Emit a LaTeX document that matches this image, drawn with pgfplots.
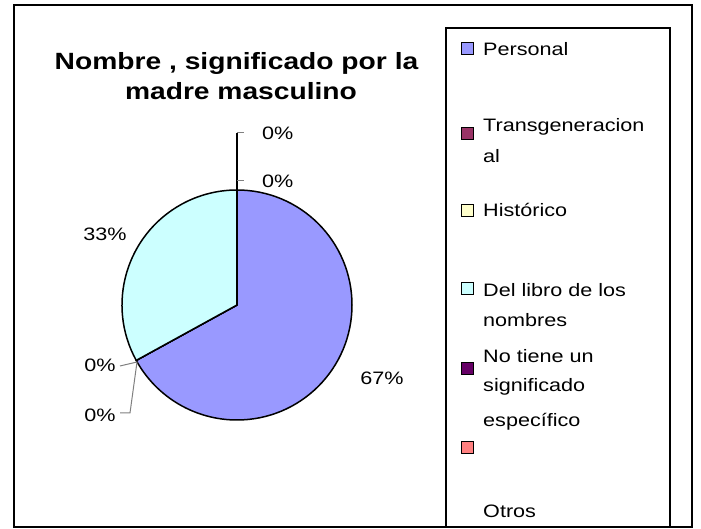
\documentclass[border=0pt]{standalone}
\usepackage{pgfplots}
\usepackage{pgfplotstable}
\pgfplotsset{compat=1.18}
\usepackage{fontspec}
\setmainfont{Liberation Sans}[FakeStretch=1.2]

\definecolor{slice0}{HTML}{9999FF}
\definecolor{slice1}{HTML}{993366}
\definecolor{slice2}{HTML}{FFFFCC}
\definecolor{slice3}{HTML}{CCFFFF}
\definecolor{slice4}{HTML}{660066}
\definecolor{slice5}{HTML}{FF8080}
\definecolor{leader}{HTML}{808080}

% percentages per category, in legend order
\pgfplotstableread{
idx value
0 67
1 0
2 0
3 33
4 0
5 0
}\piedata

\begin{document}
\begin{tikzpicture}
\begin{axis}[
    hide axis,
    scale only axis,
    width=701bp, height=529bp,
    xmin=0, xmax=701, ymin=0, ymax=529,
    clip=false,
    font=\fontsize{18bp}{21bp}\selectfont
  ]
  \pgfplotsextra{
    \path (axis cs:0,0) rectangle (axis cs:701,529);
    % pie slices, clockwise from 12 o'clock
    \xdef\startangle{90}
    \foreach \i in {0,...,5}{
      \pgfplotstablegetelem{\i}{value}\of\piedata
      \pgfmathsetmacro\endangle{\startangle-3.6*\pgfplotsretval}
      \filldraw[fill=slice\i, draw=black, line width=1.5bp]
        (axis cs:237,224) -- ++(\startangle:115bp)
        arc[start angle=\startangle, end angle=\endangle, radius=115bp] -- cycle;
      \xdef\startangle{\endangle}
    }
    % outer frame and legend frame
    \draw[line width=2.5bp] (axis cs:14,2) rectangle (axis cs:692,524);
    \draw[line width=2.5bp] (axis cs:446,2) rectangle (axis cs:670,501);
    % title
    \node[anchor=base, font=\fontsize{23.5bp}{28bp}\selectfont\bfseries] at (axis cs:236.5,459) {Nombre , significado por la};
    \node[anchor=base, font=\fontsize{23.5bp}{28bp}\selectfont\bfseries] at (axis cs:241,429) {madre masculino};
    % leader lines
    \draw[line width=2.5bp] (axis cs:237,339) -- (axis cs:237,396);
    \draw[leader, line width=1bp] (axis cs:237,396) -- (axis cs:244,396);
    \draw[leader, line width=1bp] (axis cs:237,348) -- (axis cs:244,348);
    \draw[leader, line width=1bp] (axis cs:120,163) -- (axis cs:137,167);
    \draw[leader, line width=1bp] (axis cs:120,116) -- (axis cs:130,116) -- (axis cs:137,167);
    % data labels
    \node[anchor=west, inner sep=0pt] at (axis cs:262,396) {0\%};
    \node[anchor=west, inner sep=0pt] at (axis cs:262,348) {0\%};
    \node at (axis cs:105,295) {33\%};
    \node at (axis cs:382,151) {67\%};
    \node at (axis cs:100,164) {0\%};
    \node at (axis cs:100,114) {0\%};
    % legend
    \foreach \c/\y in {0/474, 1/389, 2/312, 3/234, 4/154, 5/75}{
      \filldraw[fill=slice\c, draw=black, line width=1bp] (axis cs:461,\y) rectangle (axis cs:473,\y+12);
    }
    \foreach \t/\y in {Personal/473, Transgeneracion/397, al/366, Histórico/312,
                       Del libro de los/232, nombres/202, No tiene un/166,
                       significado/137, específico/102, Otros/12}{
      \node[anchor=base west, inner sep=0pt] at (axis cs:483,\y) {\t};
    }
  }
\end{axis}
\end{tikzpicture}
\end{document}
